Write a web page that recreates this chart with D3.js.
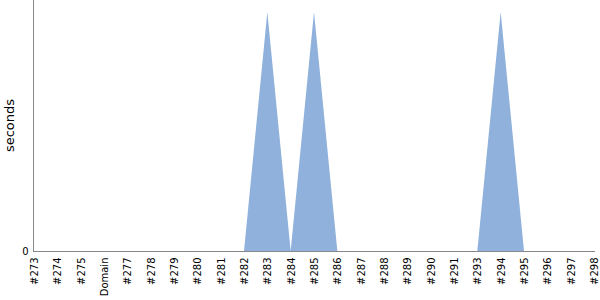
<!DOCTYPE html>
<html>
<head>
<meta charset="utf-8">
<script src="https://cdn.jsdelivr.net/npm/d3@7"></script>
<style>
  body { margin: 0; background: #fff; }
  svg { display: block; font-family: "DejaVu Sans", sans-serif; }
</style>
</head>
<body>
<div id="chart"></div>
<script>
const builds = ['#273', '#274', '#275', 'Domain', '#277', '#278', '#279', '#280', '#281', '#282',
                '#283', '#284', '#285', '#286', '#287', '#288', '#289', '#290', '#291', '#293',
                '#294', '#295', '#296', '#297', '#298']
const seconds = [0, 0, 0, 0, 0, 0, 0, 0, 0, 0,
                 1, 0, 1, 0, 0, 0, 0, 0, 0, 0,
                 1, 0, 0, 0, 0]
const yTicks = [0]

const width = 600,
      height = 300,
      margin = { top: 0, right: 6, bottom: 49, left: 34 }

const svg = d3.select('#chart')
  .append('svg')
  .attr('width', width)
  .attr('height', height)

const innerW = width - margin.left - margin.right,
      innerH = height - margin.top - margin.bottom

const g = svg.append('g')
  .attr('transform', `translate(${margin.left}, ${margin.top})`)

var scale = {}
scale.x = d3.scalePoint()
  .domain(builds)
  .range([0, innerW])
scale.y = d3.scaleLinear()
  .domain([0, 1.05])
  .range([innerH, 0])

// area
const area = d3.area()
  .x((d, i) => scale.x(builds[i]))
  .y0(scale.y(0))
  .y1(d => scale.y(d))

g.append('path')
  .datum(seconds)
  .attr('d', area)
  .attr('fill', '#8fb1dc')

// x axis
const xAxis = g.append('g')
  .attr('transform', `translate(0, ${innerH + 0.5})`)
  .call(d3.axisBottom(scale.x).tickSize(0).tickPadding(0))
  .attr('font-family', null)
  .attr('font-size', null)
xAxis.select('.domain')
  .attr('d', `M-1,0H${innerW + 1}`)
  .attr('stroke', '#888')
xAxis.selectAll('text')
  .attr('font-size', 10)
  .attr('fill', '#000')
  .attr('text-anchor', 'end')
  .attr('dy', '0.35em')
  .attr('transform', 'translate(0, 6) rotate(-90)')
  .attr('x', 0)
  .attr('y', 0)

// y axis
const yAxis = g.append('g')
  .attr('transform', 'translate(-0.5, 0)')
  .call(d3.axisLeft(scale.y).tickValues(yTicks).tickFormat(d3.format('d')).tickSize(0).tickPadding(5))
  .attr('font-family', null)
  .attr('font-size', null)
yAxis.select('.domain')
  .attr('d', `M0,0V${innerH}`)
  .attr('stroke', '#888')
yAxis.selectAll('text')
  .attr('font-size', 10)
  .attr('fill', '#000')

// y label
svg.append('text')
  .attr('transform', `translate(14, ${margin.top + innerH / 2}) rotate(-90)`)
  .attr('text-anchor', 'middle')
  .attr('font-size', 13)
  .text('seconds')
</script>
</body>
</html>
